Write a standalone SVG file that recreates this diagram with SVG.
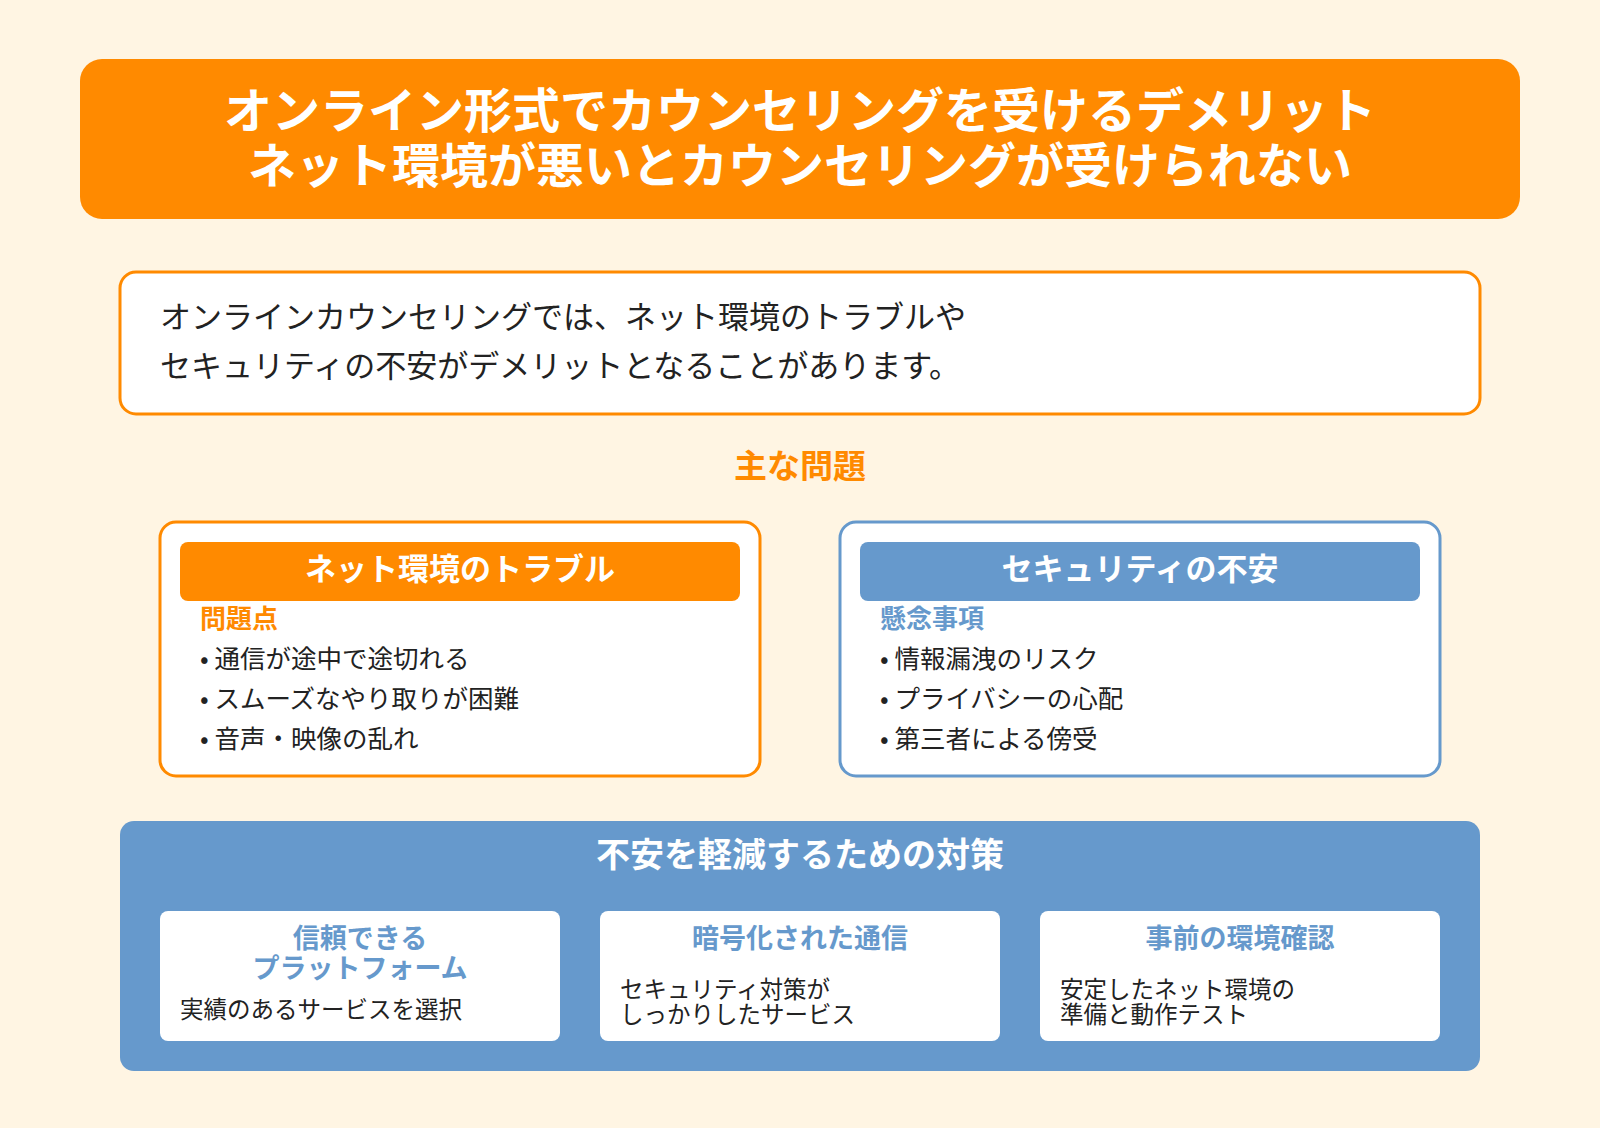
<svg xmlns="http://www.w3.org/2000/svg" width="1600" height="1128" viewBox="0 0 1600 1128">
<style>
text{font-family:"Noto Sans CJK JP","Noto Sans",sans-serif}
.w{fill:#fff;font-weight:bold}
.b{fill:#222}
.o{fill:#ff8a00;font-weight:bold}
.bl{fill:#6699cc;font-weight:bold}
</style>
<rect width="1600" height="1128" fill="#fff5e3"/>
<g id="title">
<rect x="80" y="59" width="1440" height="160" rx="22" fill="#ff8a00"/>
<text class="w" x="800" y="128" font-size="48" text-anchor="middle">オンライン形式でカウンセリングを受けるデメリット</text>
<text class="w" x="800" y="183" font-size="48" text-anchor="middle">ネット環境が悪いとカウンセリングが受けられない</text>
</g>
<g id="intro">
<rect x="120" y="272" width="1360" height="142" rx="16" fill="#fff" stroke="#ff8a00" stroke-width="3"/>
<text class="b" x="160" y="328" font-size="31">オンラインカウンセリングでは、ネット環境のトラブルや</text>
<text class="b" x="160" y="377" font-size="31">セキュリティの不安がデメリットとなることがあります。</text>
</g>
<text class="o" x="800" y="478" font-size="33" text-anchor="middle">主な問題</text>
<g id="net">
<rect x="160" y="522" width="600" height="254" rx="16" fill="#fff" stroke="#ff8a00" stroke-width="3"/>
<rect x="180" y="542" width="560" height="59" rx="8" fill="#ff8a00"/>
<text class="w" x="460" y="580" font-size="31" text-anchor="middle">ネット環境のトラブル</text>
<text class="o" x="200" y="628" font-size="26">問題点</text>
<text class="b" x="200" y="668" font-size="25.5">• 通信が途中で途切れる</text>
<text class="b" x="200" y="708" font-size="25.5">• スムーズなやり取りが困難</text>
<text class="b" x="200" y="748" font-size="25.5">• 音声・映像の乱れ</text>
</g>
<g id="sec">
<rect x="840" y="522" width="600" height="254" rx="16" fill="#fff" stroke="#6699cc" stroke-width="3"/>
<rect x="860" y="542" width="560" height="59" rx="8" fill="#6699cc"/>
<text class="w" x="1140" y="580" font-size="31" text-anchor="middle">セキュリティの不安</text>
<text class="bl" x="880" y="628" font-size="26">懸念事項</text>
<text class="b" x="880" y="668" font-size="25.5">• 情報漏洩のリスク</text>
<text class="b" x="880" y="708" font-size="25.5">• プライバシーの心配</text>
<text class="b" x="880" y="748" font-size="25.5">• 第三者による傍受</text>
</g>
<g id="measures">
<rect x="120" y="821" width="1360" height="250" rx="14" fill="#6699cc"/>
<text class="w" x="800" y="867" font-size="34" text-anchor="middle">不安を軽減するための対策</text>
</g>
<g id="m1">
<rect x="160" y="911" width="400" height="130" rx="8" fill="#fff"/>
<text class="bl" x="360" y="948" font-size="27" text-anchor="middle">信頼できる</text>
<text class="bl" x="360" y="978" font-size="27" text-anchor="middle">プラットフォーム</text>
<text class="b" x="180" y="1018" font-size="23.5">実績のあるサービスを選択</text>
</g>
<g id="m2">
<rect x="600" y="911" width="400" height="130" rx="8" fill="#fff"/>
<text class="bl" x="800" y="948" font-size="27" text-anchor="middle">暗号化された通信</text>
<text class="b" x="620" y="998" font-size="23.5">セキュリティ対策が</text>
<text class="b" x="620" y="1023" font-size="23.5">しっかりしたサービス</text>
</g>
<g id="m3">
<rect x="1040" y="911" width="400" height="130" rx="8" fill="#fff"/>
<text class="bl" x="1240" y="948" font-size="27" text-anchor="middle">事前の環境確認</text>
<text class="b" x="1060" y="998" font-size="23.5">安定したネット環境の</text>
<text class="b" x="1060" y="1023" font-size="23.5">準備と動作テスト</text>
</g>
<g id="connectors"/>
</svg>
